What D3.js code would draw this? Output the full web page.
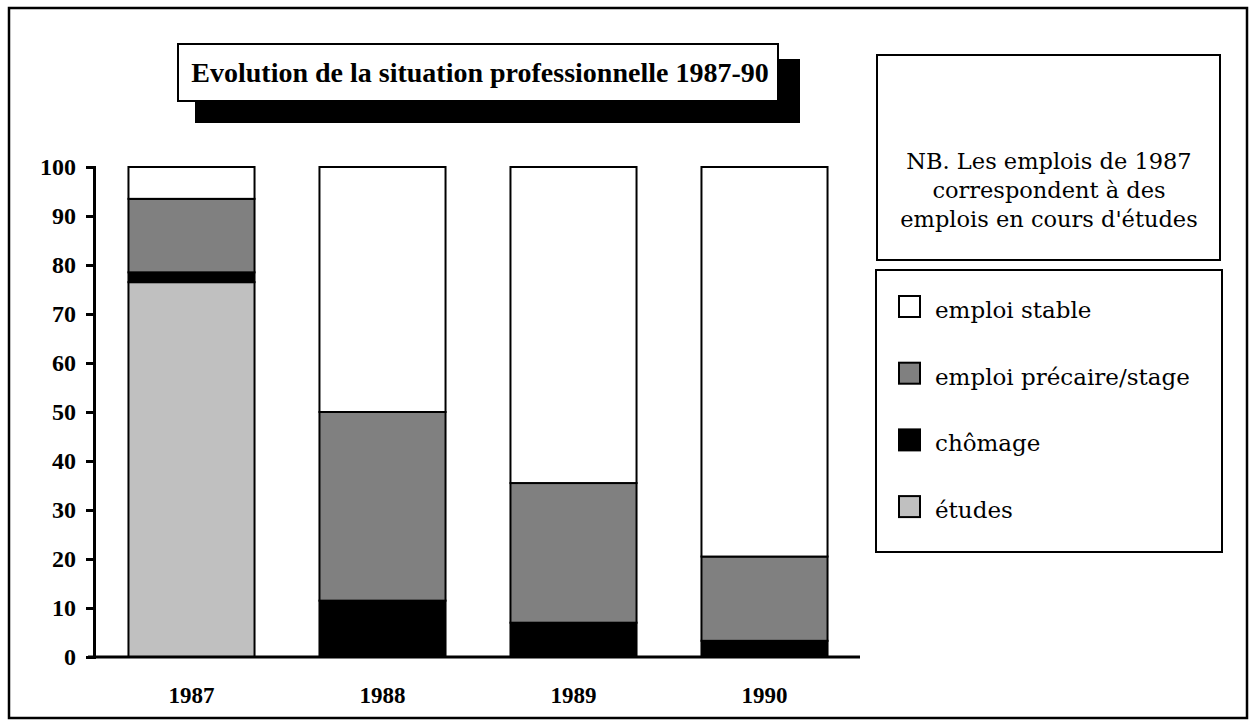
<!DOCTYPE html>
<html>
<head>
<meta charset="utf-8">
<script src="https://cdn.jsdelivr.net/npm/d3@7"></script>
<style>
  body { margin: 0; background: #fff; }
  svg { display: block; }
</style>
</head>
<body>
<div id="chart"></div>
<script>
const W = 1255, H = 728;

// data (percent)
const years = ["1987", "1988", "1989", "1990"];
const etudes   = [76.5, 0, 0, 0];
const chomage  = [2.0, 11.5, 7.0, 3.3];
const precaire = [15.0, 38.5, 28.5, 17.2];
const stable   = [6.5, 50.0, 64.5, 79.5];

const seriesNames = ["étude", "chômage", "emploi précaire/stage", "emploi stable"];
const legendLabels = ["emploi stable", "emploi précaire/stage", "chômage", "études"];
const yTicks = [0, 10, 20, 30, 40, 50, 60, 70, 80, 90, 100];
const title = "Evolution de la situation professionnelle 1987-90";
const noteLines = ["NB. Les emplois de 1987", "correspondent à des", "emplois en cours d'études"];

const colors = {
  "étude": "#c0c0c0",
  "chômage": "#000000",
  "emploi précaire/stage": "#808080",
  "emploi stable": "#ffffff"
};
const legendColors = ["#ffffff", "#808080", "#000000", "#c0c0c0"];

const svg = d3.select("#chart").append("svg")
  .attr("width", W).attr("height", H);

// outer frame
svg.append("rect")
  .attr("x", 9).attr("y", 8).attr("width", 1238).attr("height", 710)
  .attr("fill", "#fff").attr("stroke", "#000").attr("stroke-width", 2.5);

// title with drop shadow
svg.append("rect")
  .attr("x", 195).attr("y", 59).attr("width", 605).attr("height", 64)
  .attr("fill", "#000");
svg.append("rect")
  .attr("x", 178).attr("y", 44).attr("width", 600).attr("height", 57)
  .attr("fill", "#fff").attr("stroke", "#000").attr("stroke-width", 2);
svg.append("text")
  .attr("x", 480).attr("y", 82)
  .attr("text-anchor", "middle")
  .attr("font-family", "Liberation Serif, serif")
  .attr("font-weight", "bold")
  .attr("font-size", 28)
  .text(title);

// scales
const x = d3.scaleBand().domain(years).range([96, 860]).paddingInner(0.34).paddingOuter(0.17);
const y = d3.scaleLinear().domain([0, 100]).range([657, 167]);

const rows = years.map((yr, i) => ({
  year: yr,
  "étude": etudes[i],
  "chômage": chomage[i],
  "emploi précaire/stage": precaire[i],
  "emploi stable": stable[i]
}));
const stack = d3.stack().keys(seriesNames)(rows);

svg.append("g").selectAll("g")
  .data(stack)
  .join("g")
  .attr("fill", d => colors[d.key])
  .selectAll("rect")
  .data(d => d.filter(p => p[1] - p[0] > 0))
  .join("rect")
  .attr("x", d => x(d.data.year))
  .attr("width", x.bandwidth())
  .attr("y", d => y(d[1]))
  .attr("height", d => y(d[0]) - y(d[1]))
  .attr("stroke", "#000")
  .attr("stroke-width", 2);

// y axis
const yAxis = svg.append("g")
  .attr("transform", "translate(94,0)")
  .call(d3.axisLeft(y).tickValues(yTicks).tickSize(8).tickPadding(10));
yAxis.select(".domain").attr("stroke-width", 3);
yAxis.selectAll(".tick line").attr("stroke-width", 3);
yAxis.selectAll(".tick text")
  .attr("font-family", "Liberation Serif, serif")
  .attr("font-weight", "bold")
  .attr("font-size", 24)
  .attr("fill", "#000");

// x axis
const xAxis = svg.append("g")
  .attr("transform", "translate(0,657)")
  .call(d3.axisBottom(x).tickSize(0).tickPadding(30));
xAxis.select(".domain").attr("d", "M88,0H860").attr("stroke-width", 3);
xAxis.selectAll(".tick text")
  .attr("font-family", "Liberation Serif, serif")
  .attr("font-weight", "bold")
  .attr("font-size", 23)
  .attr("fill", "#000");

// note box
svg.append("rect")
  .attr("x", 877).attr("y", 55).attr("width", 343).attr("height", 205)
  .attr("fill", "#fff").attr("stroke", "#000").attr("stroke-width", 2);
svg.append("g").selectAll("text")
  .data(noteLines)
  .join("text")
  .attr("x", 1049)
  .attr("y", (d, i) => 169 + i * 29)
  .attr("text-anchor", "middle")
  .attr("font-family", "DejaVu Serif, serif")
  .attr("font-size", 22.5)
  .text(d => d);

// legend
svg.append("rect")
  .attr("x", 876).attr("y", 270).attr("width", 346).attr("height", 282)
  .attr("fill", "#fff").attr("stroke", "#000").attr("stroke-width", 2);
const leg = svg.append("g").selectAll("g")
  .data(legendLabels)
  .join("g")
  .attr("transform", (d, i) => `translate(0,${309 + i * 66.7})`);
leg.append("rect")
  .attr("x", 899).attr("y", -13).attr("width", 21).attr("height", 21)
  .attr("fill", (d, i) => legendColors[i])
  .attr("stroke", "#000").attr("stroke-width", 2);
leg.append("text")
  .attr("x", 935).attr("y", 9)
  .attr("font-family", "DejaVu Serif, serif")
  .attr("font-size", 23)
  .text(d => d);
</script>
</body>
</html>
